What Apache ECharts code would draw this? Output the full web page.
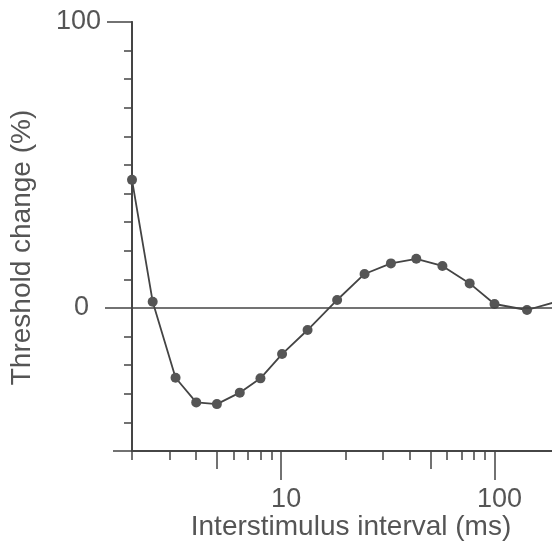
<!DOCTYPE html>
<html>
<head>
<meta charset="utf-8">
<script src="https://cdn.jsdelivr.net/npm/echarts@6/dist/echarts.min.js"></script>
<style>html,body{margin:0;padding:0;background:#fff}#c{width:552px;height:547px}</style>
</head>
<body>
<div id="c"></div>
<script>
// Data
const intervals = [2, 2.5, 3.2, 4, 5, 6.4, 8, 10.1, 13.3, 18.3, 24.6, 32.7, 43, 57, 76.5, 100, 142, 200];
const thresholdChange = [44.8, 2.2, -24.4, -33, -33.6, -29.6, -24.6, -16.1, -7.7, 2.8, 11.9, 15.6, 17.2, 14.7, 8.6, 1.4, -0.7, 2.4];
// Tick values
const xMinorTicks = [2, 3, 4, 6, 7, 8, 9, 20, 30, 40, 60, 70, 80, 90];
const xMidTicks = [5, 50];
const xMajorTicks = [10, 100];
const yZeroTick = [0];
const yTopTick = [100];
const yBottomTick = [-50];

const FONT = '"Liberation Sans", Arial, Helvetica, sans-serif';
const INK = '#444';
const TXT = '#555';
const X_MIN = 2, X_MAX = 186, Y_MIN = -50, Y_MAX = 100;

const lineData = intervals.map((x, i) => [x, thresholdChange[i]]);

function xAx(ticks, len, showLabel, extra) {
  return Object.assign({
    type: 'log', logBase: 10, min: X_MIN, max: X_MAX, position: 'bottom', gridIndex: 0,
    axisLine: { show: true, onZero: false, lineStyle: { color: INK, width: 1.5 } },
    axisTick: { show: true, inside: false, length: len, customValues: ticks, lineStyle: { color: INK, width: 1.5 } },
    axisLabel: showLabel ? { show: true, customValues: ticks, fontFamily: FONT, fontSize: 27, color: TXT, margin: 35, padding: [0, 0, 0, 10] } : { show: false },
    splitLine: { show: false }
  }, extra || {});
}
function yAx(ticks, len, labelMargin, extra) {
  const a = {
    type: 'value', min: Y_MIN, max: Y_MAX, position: 'left', gridIndex: 0,
    axisLine: { show: true, onZero: false, lineStyle: { color: INK, width: 1.5 } },
    axisTick: { show: true, inside: false, length: len, lineStyle: { color: INK, width: 1.5 } },
    axisLabel: labelMargin == null ? { show: false } : { show: true, customValues: ticks, fontFamily: FONT, fontSize: 27, color: TXT, margin: labelMargin, padding: [6, 0, 0, 0] },
    splitLine: { show: false }
  };
  if (ticks) a.axisTick.customValues = ticks; else a.interval = 10;
  return Object.assign(a, extra || {});
}

const chart = echarts.init(document.getElementById('c'), null, { renderer: 'canvas' });
chart.setOption({
  animation: false,
  backgroundColor: '#fff',
  grid: { left: 132, right: 0, top: 22, bottom: 96, containLabel: false },
  xAxis: [
    xAx(xMinorTicks, 9, false, {
      name: 'Interstimulus interval (ms)', nameLocation: 'middle', nameGap: 62,
      nameTextStyle: { fontFamily: FONT, fontSize: 28, color: TXT, padding: [0, 0, 0, 18] }
    }),
    xAx(xMidTicks, 18, false),
    xAx(xMajorTicks, 29, true)
  ],
  yAxis: [
    yAx(null, 8, null, {
      name: 'Threshold change (%)', nameLocation: 'middle', nameGap: 96,
      nameTextStyle: { fontFamily: FONT, fontSize: 28, color: TXT, padding: [0, 22, 0, 0] }
    }),
    yAx(yZeroTick, 27, 43),
    yAx(yTopTick, 25, 31),
    yAx(yBottomTick, 19, null)
  ],
  series: [{
    type: 'line',
    xAxisIndex: 0, yAxisIndex: 0,
    data: lineData,
    clip: true,
    symbol: 'circle', symbolSize: 10,
    itemStyle: { color: '#555' },
    lineStyle: { color: INK, width: 1.8 },
    markLine: {
      silent: true, symbol: ['none', 'none'], label: { show: false },
      lineStyle: { color: INK, width: 1.5, type: 'solid' },
      data: [{ yAxis: 0 }]
    }
  }]
});
</script>
</body>
</html>
